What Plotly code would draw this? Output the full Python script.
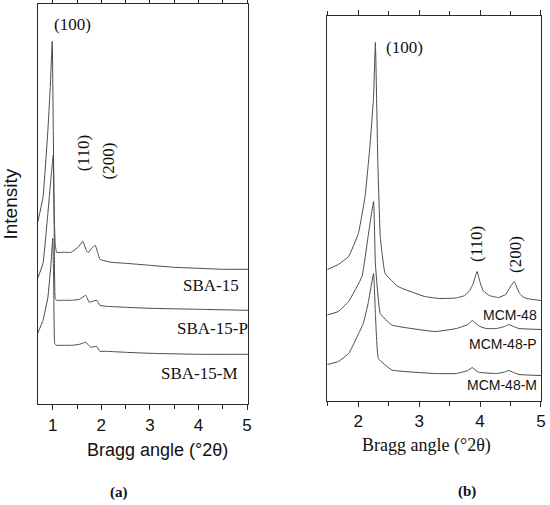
""" XRD patterns: SBA-15 (a) and MCM-48 (b) series. """

import plotly.graph_objects as go

# ---- panel (a): SBA-15 samples, Bragg angle (deg 2theta) vs intensity (a.u.)
sba15_x = [0.69, 0.80, 0.90, 0.95, 0.99, 1.01, 1.03, 1.05, 1.08, 1.21, 1.38, 1.52, 1.62,
           1.70, 1.74, 1.80, 1.875, 1.93, 1.97, 2.2, 2.5, 3.0, 3.5, 4.0, 4.5, 5.02]
sba15_y = [182, 207, 274, 318, 363, 280, 190, 161, 152, 152, 152, 157, 163,
           153, 152, 156, 159, 151, 145, 142, 141, 139, 137, 136, 135, 135]

sba15p_x = [0.69, 0.80, 0.90, 0.96, 1.01, 1.03, 1.05, 1.08, 1.2, 1.4, 1.55, 1.68, 1.75,
            1.82, 1.91, 1.97, 2.1, 2.5, 3.0, 4.0, 5.02]
sba15p_y = [126, 141, 191, 224, 249, 180, 106, 104, 104, 104, 105, 109, 102,
            103, 104, 99, 98, 97, 96, 95, 94]

sba15m_x = [0.69, 0.80, 0.90, 0.96, 1.00, 1.02, 1.04, 1.07, 1.2, 1.4, 1.55, 1.68, 1.78,
            1.90, 1.97, 2.1, 2.5, 3.0, 4.0, 5.02]
sba15m_y = [71, 84, 107, 138, 166, 120, 61, 59, 59, 59, 60, 62, 57,
            58, 53, 53, 52, 51, 50, 50]

# ---- panel (b): MCM-48 samples
mcm48_x = [1.49, 1.67, 1.84, 2.00, 2.11, 2.19, 2.25, 2.28, 2.32, 2.36, 2.44, 2.65, 3.09,
           3.34, 3.60, 3.75, 3.83, 3.88, 3.95, 4.00, 4.05, 4.15, 4.30, 4.42, 4.51, 4.56,
           4.61, 4.65, 4.72, 4.81, 5.0]
mcm48_y = [131, 136, 144, 167, 204, 254, 304, 358, 238, 164, 127, 114, 104,
           102, 102.5, 105, 110, 116, 129, 118, 110, 105, 103, 106, 115, 119,
           112, 107, 103, 101.5, 100]

mcm48p_x = [1.49, 1.67, 1.84, 2.06, 2.16, 2.25, 2.28, 2.36, 2.55, 3.26, 3.61, 3.80, 3.87,
            3.95, 4.00, 4.10, 4.27, 4.40, 4.47, 4.55, 4.64, 5.0]
mcm48p_y = [85.5, 89, 99, 124, 164, 199, 137, 87, 75.5, 69, 72, 76, 80,
            76, 74, 72, 72, 74, 76, 74, 72, 71]

mcm48m_x = [1.49, 1.67, 1.84, 2.08, 2.16, 2.25, 2.28, 2.33, 2.55, 3.26, 3.61, 3.80, 3.87,
            3.95, 4.00, 4.27, 4.40, 4.47, 4.55, 4.64, 5.0]
mcm48m_y = [36, 39, 47, 77, 97, 127, 87, 42, 30.5, 27, 27, 30, 33,
            29, 28, 27, 28.5, 30, 28, 26, 25]

SERIF = "Liberation Serif"
SANS = "Liberation Sans"
AXIS_COLOR = "#2b2b2b"
LINE = dict(color="#4a4a4a", width=1, shape="spline", smoothing=0.3)

fig = go.Figure()

for xs, ys, name in [(sba15_x, sba15_y, "SBA-15"),
                     (sba15p_x, sba15p_y, "SBA-15-P"),
                     (sba15m_x, sba15m_y, "SBA-15-M")]:
    fig.add_trace(go.Scatter(x=xs, y=ys, mode="lines", line=LINE, name=name,
                             xaxis="x", yaxis="y"))

for xs, ys, name in [(mcm48_x, mcm48_y, "MCM-48"),
                     (mcm48p_x, mcm48p_y, "MCM-48-P"),
                     (mcm48m_x, mcm48m_y, "MCM-48-M")]:
    fig.add_trace(go.Scatter(x=xs, y=ys, mode="lines", line=LINE, name=name,
                             xaxis="x2", yaxis="y2"))

frame = dict(showline=True, linecolor=AXIS_COLOR, linewidth=1.2, mirror=True,
             showgrid=False, zeroline=False, automargin=False)
# ticks mirrored on the top edge as well
bottom = dict(frame, mirror="ticks", ticks="outside", ticklen=5, tickwidth=1,
              tickcolor=AXIS_COLOR, tickmode="linear", tick0=0, dtick=1,
              minor=dict(ticks="outside", ticklen=4, tickcolor=AXIS_COLOR, dtick=0.5, tick0=0),
              tickfont=dict(family=SANS, size=17, color="#111"))
side = dict(frame, ticks="", showticklabels=False)

fig.update_layout(
    width=550, height=505, autosize=False,
    margin=dict(l=0, r=0, t=0, b=0),
    paper_bgcolor="white", plot_bgcolor="white",
    showlegend=False,
    xaxis=dict(bottom, domain=[0.0685, 0.4509], range=[0.69, 5.02], anchor="y"),
    yaxis=dict(side, domain=[0.1994, 0.9921], range=[0, 400.3], anchor="x",
               title=dict(text="Intensity", font=dict(family=SANS, size=19, color="#111"),
                          standoff=14)),
    xaxis2=dict(bottom, domain=[0.5951, 0.9836], range=[1.49, 5.0], anchor="y2"),
    yaxis2=dict(side, domain=[0.2069, 0.9683], range=[0, 384.5], anchor="x2"),
)

serif17 = dict(family=SERIF, size=17, color="#111")
sans14 = dict(family=SANS, size=14, color="#111")
annotations = [
    # panel (a) peak indices and sample names
    dict(x=1.41, y=380, xref="x", yref="y", text="(100)", font=serif17),
    dict(x=1.62, y=251, xref="x", yref="y", text="(110)", font=serif17, textangle=-90),
    dict(x=2.14, y=243, xref="x", yref="y", text="(200)", font=serif17, textangle=-90),
    dict(x=4.87, y=119, xref="x", yref="y", text="SBA-15", font=serif17, xanchor="right"),
    dict(x=5.0, y=76, xref="x", yref="y", text="SBA-15-P", font=serif17, xanchor="right",
         xshift=3),
    dict(x=4.85, y=31, xref="x", yref="y", text="SBA-15-M", font=serif17, xanchor="right"),
    # panel (b)
    dict(x=2.76, y=353, xref="x2", yref="y2", text="(100)", font=serif17),
    dict(x=3.94, y=157, xref="x2", yref="y2", text="(110)", font=serif17, textangle=-90),
    dict(x=4.58, y=146, xref="x2", yref="y2", text="(200)", font=serif17, textangle=-90),
    dict(x=4.96, y=85.5, xref="x2", yref="y2", text="MCM-48", font=sans14, xanchor="right"),
    dict(x=4.96, y=56.5, xref="x2", yref="y2", text="MCM-48-P", font=sans14, xanchor="right"),
    dict(x=4.96, y=15.5, xref="x2", yref="y2", text="MCM-48-M", font=sans14, xanchor="right"),
    # axis titles and panel letters
    dict(x=0.2855, y=0.1089, xref="paper", yref="paper", text="Bragg angle (°2θ)",
         font=dict(family=SANS, size=18, color="#111")),
    dict(x=0.7758, y=0.1188, xref="paper", yref="paper", text="Bragg angle (°2θ)",
         font=dict(family=SERIF, size=18, color="#111")),
    dict(x=0.2164, y=0.0238, xref="paper", yref="paper", text="<b>(a)</b>",
         font=dict(family=SERIF, size=15, color="#111")),
    dict(x=0.8485, y=0.0263, xref="paper", yref="paper", text="<b>(b)</b>",
         font=dict(family=SERIF, size=15, color="#111")),
]
fig.update_layout(annotations=[dict(showarrow=False, xanchor="center", yanchor="middle") | a
                               for a in annotations])

# the page's default body margin would shift the figure by 8 px
fig.write_html("out.html", config={"displayModeBar": False},
               post_script="document.body.style.margin = '0';")
